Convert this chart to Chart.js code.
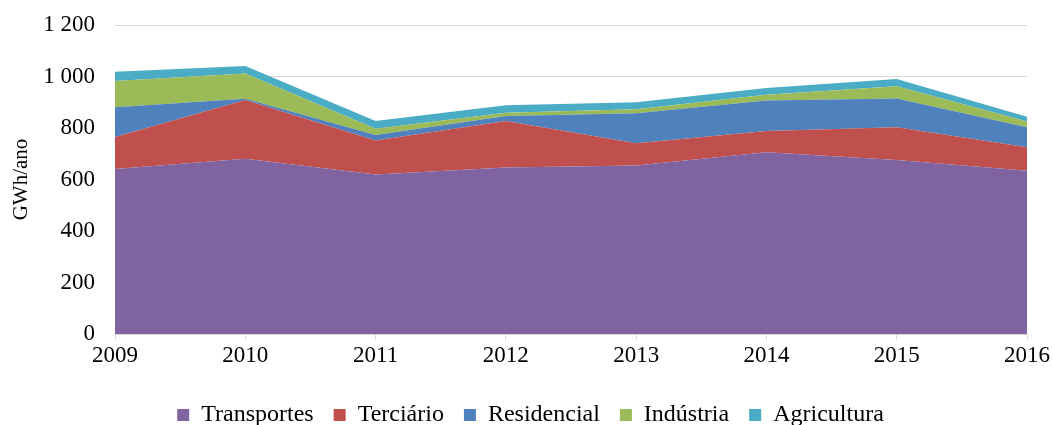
<!DOCTYPE html>
<html>
<head>
<meta charset="utf-8">
<script src="https://cdn.jsdelivr.net/npm/chart.js@4/dist/chart.umd.min.js"></script>
<style>
    html, body { margin: 0; padding: 0; background: #fff; }
    #wrap { width: 1053px; height: 425px; }
</style>
</head>
<body>
<div id="wrap"><canvas id="energyChart" width="1053" height="425"></canvas></div>
<script>
// consumo por setor, GWh/ano
const years = ['2009', '2010', '2011', '2012', '2013', '2014', '2015', '2016'];
const transportes = [641, 681, 619, 647, 654, 706, 676, 634];
const terciario = [124, 228, 132, 180, 87, 82, 127, 91];
const residencial = [116, 5, 22, 20, 116, 119, 112, 78];
const industria = [102, 98, 24, 12, 16, 22, 47, 22];
const agricultura = [35, 29, 30, 29, 27, 26, 28, 19];
const yTicks = [0, 200, 400, 600, 800, 1000, 1200];

const fontFamily = '"Liberation Serif", "Times New Roman", serif';

function area(label, data, color, fill) {
    return {
        label: label,
        data: data,
        backgroundColor: color,
        borderColor: color,
        borderWidth: 0,
        pointRadius: 0,
        tension: 0,
        fill: fill
    };
}

// legend is a bit too tall by default, squeeze it and nudge it right
const legendTweak = {
    id: 'legendTweak',
    beforeInit(chart) {
        const fit = chart.legend.fit;
        chart.legend.fit = function () {
            fit.bind(chart.legend)();
            this.height = 42;
        };
    },
    afterLayout(chart) {
        chart.legend.left += 17;
        chart.legend.right += 17;
    }
};

const ctx = document.getElementById('energyChart').getContext('2d');
const energyChart = new Chart(ctx, {
    type: 'line',
    data: {
        labels: years,
        datasets: [
            area('Transportes', transportes, '#8064A2', 'origin'),
            area('Terciário', terciario, '#C0504D', '-1'),
            area('Residencial', residencial, '#4F81BD', '-1'),
            area('Indústria', industria, '#9BBB59', '-1'),
            area('Agricultura', agricultura, '#4BACC6', '-1')
        ]
    },
    plugins: [legendTweak],
    options: {
        responsive: false,
        animation: false,
        layout: {
            padding: { top: 25, right: 26, left: 0, bottom: 0 }
        },
        plugins: {
            legend: {
                position: 'bottom',
                labels: {
                    boxWidth: 12,
                    boxHeight: 12,
                    padding: 20,
                    color: '#000',
                    font: { family: fontFamily, size: 24 }
                }
            },
            tooltip: { enabled: false }
        },
        scales: {
            x: {
                offset: false,
                afterFit: function (axis) { axis.height = 49; },
                grid: {
                    drawOnChartArea: false,
                    drawTicks: true,
                    tickLength: 6,
                    color: '#d9d9d9'
                },
                border: { color: '#d9d9d9' },
                ticks: {
                    color: '#000',
                    padding: 2,
                    maxRotation: 0,
                    font: { family: fontFamily, size: 23 }
                }
            },
            y: {
                stacked: true,
                min: 0,
                max: 1200,
                afterFit: function (axis) {
                    axis.width = 115;
                    axis.paddingTop = 0;
                },
                afterBuildTicks: function (axis) {
                    axis.ticks = yTicks.map(v => ({ value: v }));
                },
                grid: {
                    color: '#d9d9d9',
                    drawTicks: false
                },
                border: { display: false },
                title: {
                    display: true,
                    text: 'GWh/ano',
                    color: '#000',
                    padding: { top: 9, bottom: 0 },
                    font: { family: fontFamily, size: 21 }
                },
                ticks: {
                    color: '#000',
                    padding: 20,
                    font: { family: fontFamily, size: 23 },
                    callback: function (v) {
                        return v >= 1000 ? Math.floor(v / 1000) + ' ' + String(v % 1000).padStart(3, '0') : String(v);
                    }
                }
            }
        }
    }
});
</script>
</body>
</html>
